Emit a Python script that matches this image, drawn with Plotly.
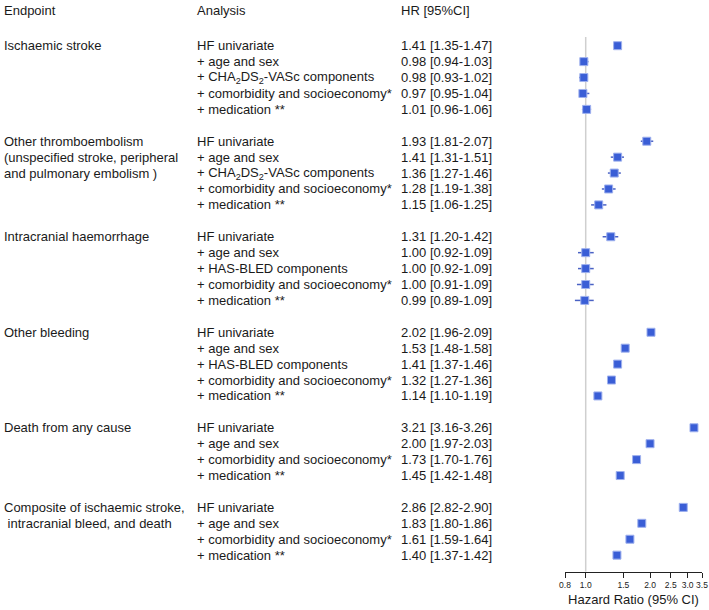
import math
import plotly.graph_objects as go

# ---------------- data ----------------
endpoints = [
    ["Ischaemic stroke"],
    ["Other thromboembolism", "(unspecified stroke, peripheral", "and pulmonary embolism )"],
    ["Intracranial haemorrhage"],
    ["Other bleeding"],
    ["Death from any cause"],
    ["Composite of ischaemic stroke,", "\u00a0intracranial bleed, and death"],
]

cha = "+ CHA<sub>2</sub>DS<sub>2</sub>-VASc components"
analyses = [
    ["HF univariate", "+ age and sex", cha, "+ comorbidity and socioeconomy*", "+ medication **"],
    ["HF univariate", "+ age and sex", cha, "+ comorbidity and socioeconomy*", "+ medication **"],
    ["HF univariate", "+ age and sex", "+ HAS-BLED components", "+ comorbidity and socioeconomy*", "+ medication **"],
    ["HF univariate", "+ age and sex", "+ HAS-BLED components", "+ comorbidity and socioeconomy*", "+ medication **"],
    ["HF univariate", "+ age and sex", "+ comorbidity and socioeconomy*", "+ medication **"],
    ["HF univariate", "+ age and sex", "+ comorbidity and socioeconomy*", "+ medication **"],
]

hr = [
    [1.41, 0.98, 0.98, 0.97, 1.01],
    [1.93, 1.41, 1.36, 1.28, 1.15],
    [1.31, 1.00, 1.00, 1.00, 0.99],
    [2.02, 1.53, 1.41, 1.32, 1.14],
    [3.21, 2.00, 1.73, 1.45],
    [2.86, 1.83, 1.61, 1.40],
]
lo = [
    [1.35, 0.94, 0.93, 0.95, 0.96],
    [1.81, 1.31, 1.27, 1.19, 1.06],
    [1.20, 0.92, 0.92, 0.91, 0.89],
    [1.96, 1.48, 1.37, 1.27, 1.10],
    [3.16, 1.97, 1.70, 1.42],
    [2.82, 1.80, 1.59, 1.37],
]
hi = [
    [1.47, 1.03, 1.02, 1.04, 1.06],
    [2.07, 1.51, 1.46, 1.38, 1.25],
    [1.42, 1.09, 1.09, 1.09, 1.09],
    [2.09, 1.58, 1.46, 1.36, 1.19],
    [3.26, 2.03, 1.76, 1.48],
    [2.90, 1.86, 1.64, 1.42],
]

tick_vals = [0.8, 1.0, 1.5, 2.0, 2.5, 3.0, 3.5]
tick_text = ["0.8", "1.0", "1.5", "2.0", "2.5", "3.0", "3.5"]
headers = ["Endpoint", "Analysis", "HR [95%CI]"]
x_title = "Hazard Ratio (95% CI)"

# ---------------- layout helpers ----------------
W, H = 709, 610
FONT = "Liberation Sans, Arial, Helvetica, sans-serif"
TXT = "#1a1a1a"
BLUE = "#3a5ed6"

# row positions (one blank row between groups)
rows = []
r = 0
for g in analyses:
    grp = []
    for _ in g:
        grp.append(r)
        r += 1
    rows.append(grp)
    r += 1

row0_px, row_step = 45.7, 15.92
axis_px = 571.7
y_top = -row0_px / row_step
y_bot = (axis_px - row0_px) / row_step

fig = go.Figure()

# reference line at HR = 1
fig.add_trace(go.Scatter(x=[1, 1], y=[(37 - row0_px) / row_step, y_bot], mode="lines",
                         line=dict(color="#cfcfcf", width=1.5), hoverinfo="skip", showlegend=False))

# CI lines
cx, cy = [], []
for gi in range(len(hr)):
    for k in range(len(hr[gi])):
        cx += [lo[gi][k], hi[gi][k], None]
        cy += [rows[gi][k], rows[gi][k], None]
fig.add_trace(go.Scatter(x=cx, y=cy, mode="lines", line=dict(color="#4a62c4", width=1.5),
                         hoverinfo="skip", showlegend=False))

# point estimates
px_, py_ = [], []
for gi in range(len(hr)):
    for k in range(len(hr[gi])):
        px_.append(hr[gi][k])
        py_.append(rows[gi][k])
fig.add_trace(go.Scatter(x=px_, y=py_, mode="markers",
                         marker=dict(symbol="square", size=8, color=BLUE,
                                     line=dict(color="#9fb1ee", width=1)),
                         showlegend=False))

ann = []
def text(x_px, y, s, size=13):
    ann.append(dict(x=x_px / W, xref="paper", y=y, yref="y", text=s, showarrow=False,
                    xanchor="left", yanchor="middle", font=dict(family=FONT, size=size, color=TXT)))

hdr_y = (10 - row0_px) / row_step
text(2, hdr_y, headers[0])
text(195, hdr_y, headers[1])
text(399, hdr_y, headers[2])

for gi in range(len(hr)):
    for li, line in enumerate(endpoints[gi]):
        text(2, rows[gi][0] + li, line)
    for k in range(len(hr[gi])):
        text(195, rows[gi][k], analyses[gi][k])
        text(399, rows[gi][k], f"{hr[gi][k]:.2f} [{lo[gi][k]:.2f}-{hi[gi][k]:.2f}]")

fig.update_layout(
    width=W, height=H,
    margin=dict(l=0, r=0, t=0, b=0),
    paper_bgcolor="white", plot_bgcolor="white",
    annotations=ann,
    showlegend=False,
    xaxis=dict(type="log", range=[math.log10(0.8), math.log10(3.5)],
               domain=[565.0 / W, 702.0 / W],
               tickvals=tick_vals, ticktext=tick_text,
               ticks="outside", ticklen=5, tickwidth=1, tickcolor="#222",
               showline=True, linecolor="#222", linewidth=1,
               showgrid=False, zeroline=False,
               tickfont=dict(family=FONT, size=8.5, color=TXT),
               title=dict(text=x_title, font=dict(family=FONT, size=13, color=TXT), standoff=5),
               automargin=False),
    yaxis=dict(range=[y_bot, y_top], domain=[(H - axis_px) / H, 1], visible=False,
               showgrid=False, zeroline=False, automargin=False),
)

fig.write_html("out.html",
               config={"displayModeBar": False},
               post_script="document.body.style.margin='0';document.body.style.overflow='hidden';")
